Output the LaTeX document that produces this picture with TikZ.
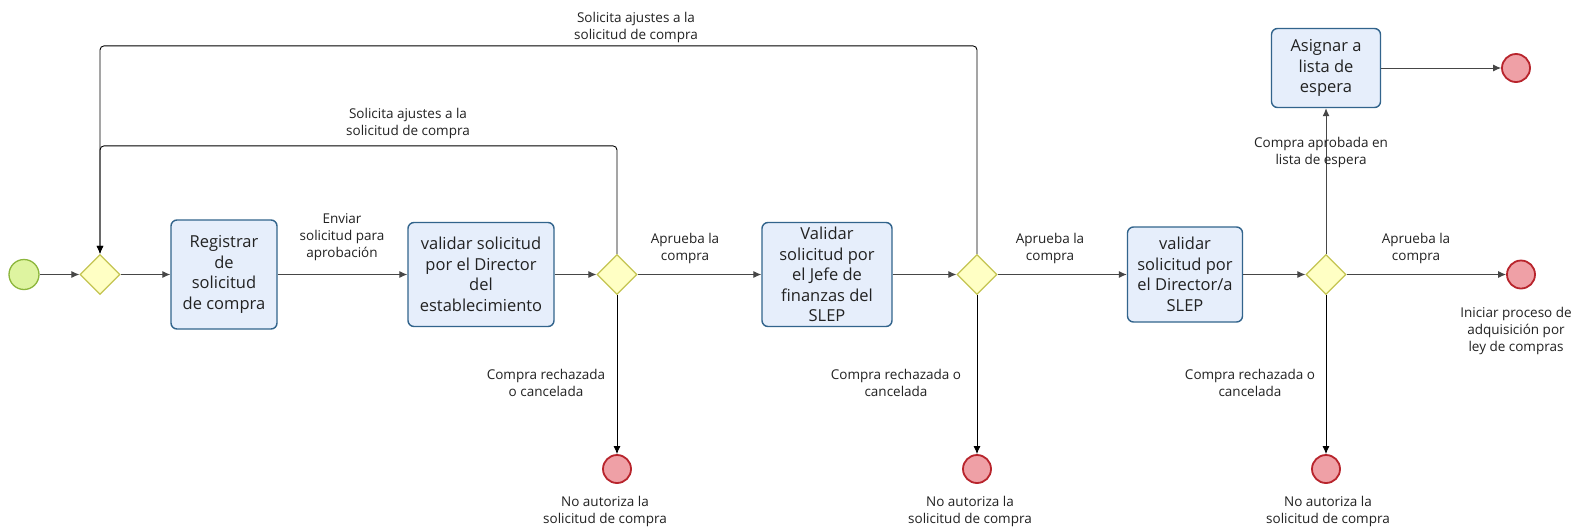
\documentclass[tikz,border=0pt]{standalone}
\usepackage{fontspec}
\setmainfont{Open Sans}
\usetikzlibrary{arrows.meta,shapes.geometric}
\definecolor{taskf}{RGB}{230,238,251}
\definecolor{taskb}{RGB}{50,100,140}
\definecolor{gwf}{RGB}{255,255,196}
\definecolor{gwb}{RGB}{196,196,80}
\definecolor{stf}{RGB}{222,244,160}
\definecolor{stb}{RGB}{140,182,60}
\definecolor{enf}{RGB}{239,160,166}
\definecolor{enb}{RGB}{184,36,44}
\definecolor{linec}{RGB}{70,70,70}
\definecolor{txt}{RGB}{34,34,34}
\begin{document}
\begin{tikzpicture}[x=1pt,y=-1pt,
  task/.style={draw=taskb, fill=taskf, rounded corners=6pt, line width=1.4pt, align=center, inner sep=0pt, font=\fontsize{16.5}{20.5}\selectfont, text=txt},
  gw/.style={diamond, aspect=1, draw=gwb, fill=gwf, line width=1.2pt, minimum width=40pt, minimum height=40pt, inner sep=0pt},
  startev/.style={circle, draw=stb, fill=stf, line width=1.3pt, minimum size=30pt, inner sep=0pt},
  endev/.style={circle, draw=enb, fill=enf, line width=1.8pt, minimum size=28pt, inner sep=0pt},
  flow/.style={draw=linec, line width=1pt, -{Latex[length=8pt,width=7pt]}},
  darkflow/.style={flow, draw=black, line width=0.9pt},
  lbl/.style={align=center, inner sep=0pt, text=txt, font=\fontsize{13.5}{17}\selectfont}]
\useasboundingbox[fill=white] (0,0) rectangle (1572,531);

% nodes
\node[startev] (s) at (24,274.5) {};
\node[gw] (g1) at (100,274.5) {};
\node[task, minimum width=106pt, minimum height=109pt] (t1) at (224,274.5) {Registrar\\de\\solicitud\\de compra};
\node[task, minimum width=146pt, minimum height=104pt] (t2) at (481,274.5) {validar solicitud\\por el Director\\del\\establecimiento};
\node[gw] (g2) at (617,274.5) {};
\node[task, minimum width=130pt, minimum height=104pt] (t3) at (827,274.5) {Validar\\solicitud por\\el Jefe de\\finanzas del\\SLEP};
\node[gw] (g3) at (977,274.5) {};
\node[task, minimum width=115pt, minimum height=95pt] (t4) at (1185,274.5) {validar\\solicitud por\\el Director/a\\SLEP};
\node[gw] (g4) at (1326,274.5) {};
\node[task, minimum width=109pt, minimum height=79pt] (t5) at (1326,68) {Asignar a\\lista de\\espera};
\node[endev] (e1) at (617,469) {};
\node[endev] (e2) at (977,469) {};
\node[endev] (e3) at (1326,469) {};
\node[endev] (e4) at (1521,274.5) {};
\node[endev] (e5) at (1516,68) {};

% flows
\draw[flow] (s) -- (g1);
\draw[flow] (g1) -- (t1);
\draw[flow] (t1) -- (t2);
\draw[flow] (t2) -- (g2);
\draw[flow] (g2) -- (t3);
\draw[flow] (t3) -- (g3);
\draw[flow] (g3) -- (t4);
\draw[flow] (t4) -- (g4);
\draw[flow] (g4) -- (e4);
\draw[flow] (g4) -- (t5);
\draw[flow] (t5) -- (e5);
\draw[darkflow] (g2) -- (e1);
\draw[darkflow] (g3) -- (e2);
\draw[darkflow] (g4) -- (e3);
\draw[darkflow, rounded corners=4pt] (g2.north) -- ++(0,-108) -| (g1.north);
\draw[darkflow, rounded corners=4pt] (g3.north) -- ++(0,-208) -| (g1.north);

% labels
\node[lbl] (l1) at (636,27) {Solicita ajustes a la\\solicitud de compra};
\node[lbl] (l2) at (408,123) {Solicita ajustes a la\\solicitud de compra};
\node[lbl] (l3) at (342,237) {Enviar\\solicitud para\\aprobación};
\node[lbl] (l4) at (685,248) {Aprueba la\\compra};
\node[lbl] (l5) at (1050,248) {Aprueba la\\compra};
\node[lbl] (l6) at (1416,248) {Aprueba la\\compra};
\node[lbl] (l7) at (546,383) {Compra rechazada\\o cancelada};
\node[lbl] (l8) at (896,383) {Compra rechazada o\\cancelada};
\node[lbl] (l9) at (1250,383) {Compra rechazada o\\cancelada};
\node[lbl] (l10) at (1321,152) {Compra aprobada en\\lista de espera};
\node[lbl] (l11) at (1516,331) {Iniciar proceso de\\adquisición por\\ley de compras};
\node[lbl] (l12) at (605,511) {No autoriza la\\solicitud de compra};
\node[lbl] (l13) at (970,511) {No autoriza la\\solicitud de compra};
\node[lbl] (l14) at (1328,511) {No autoriza la\\solicitud de compra};
\end{tikzpicture}
\end{document}
